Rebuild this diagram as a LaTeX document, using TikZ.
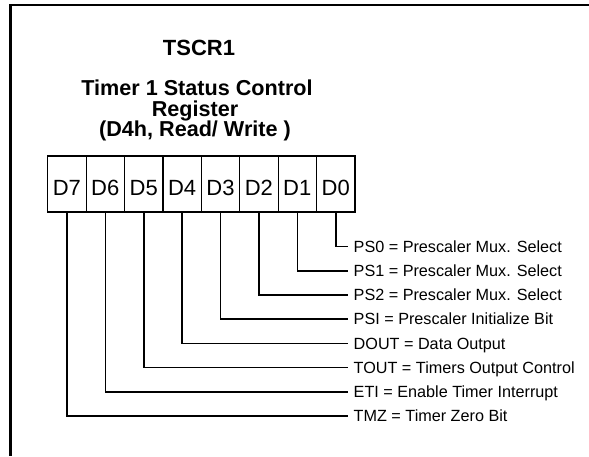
\documentclass[tikz,border=0pt]{standalone}
\usepackage{fontspec}
\setmainfont{Liberation Sans}
\begin{document}
\begin{tikzpicture}[x=1pt,y=-1pt,
  frameline/.style={line width=2.8pt, line join=miter},
  cell/.style={draw, line width=1.2pt, minimum width=38.4pt, minimum height=56pt,
    inner sep=0pt, font=\fontsize{22}{22}\selectfont, text height=23pt, text depth=0pt},
  bitlabel/.style={anchor=west, inner xsep=5.5pt, inner ysep=0pt,
    font=\fontsize{16.2}{16.2}\selectfont, text height=11.6pt, text depth=0pt},
  titletext/.style={anchor=base, inner sep=0pt, font=\bfseries\fontsize{22}{22}\selectfont},
  subtext/.style={anchor=base, inner sep=0pt, font=\bfseries\fontsize{21.6}{21.6}\selectfont},
  conn/.style={line width=1.6pt, line join=miter}]
\useasboundingbox (0,0) rectangle (589,456);

% outer frame (top and left edges)
\draw[frameline] (589,5) -- (10.5,5) -- (10.5,456);

% headings
\node[titletext] (title) at (199,55) {TSCR1};
\node[subtext] (sub1) at (197,95) {Timer 1 Status Control};
\node[subtext] (sub2) at (195,116) {Register};
\node[subtext] (sub3) at (195,136) {(D4h, Read/ Write )};

% register cells D7 ... D0
\foreach \i/\n in {0/7,1/6,2/5,3/4,4/3,5/2,6/1,7/0}
  \node[cell] (d\n) at ({66.9+38.4*\i},184) {D\n};

% bit descriptions
\node[bitlabel] (l0) at (348,246.5) {PS0 = Prescaler Mux. Select};
\node[bitlabel] (l1) at (348,270.7) {PS1 = Prescaler Mux. Select};
\node[bitlabel] (l2) at (348,294.9) {PS2 = Prescaler Mux. Select};
\node[bitlabel] (l3) at (348,319.1) {PSI = Prescaler Initialize Bit};
\node[bitlabel] (l4) at (348,343.3) {DOUT = Data Output};
\node[bitlabel] (l5) at (348,367.5) {TOUT = Timers Output Control};
\node[bitlabel] (l6) at (348,391.7) {ETI = Enable Timer Interrupt};
\node[bitlabel] (l7) at (348,415.9) {TMZ = Timer Zero Bit};

% connectors from each bit to its description
\foreach \n in {0,...,7}
  \draw[conn] (d\n.south) |- (l\n.west);
\end{tikzpicture}
\end{document}
